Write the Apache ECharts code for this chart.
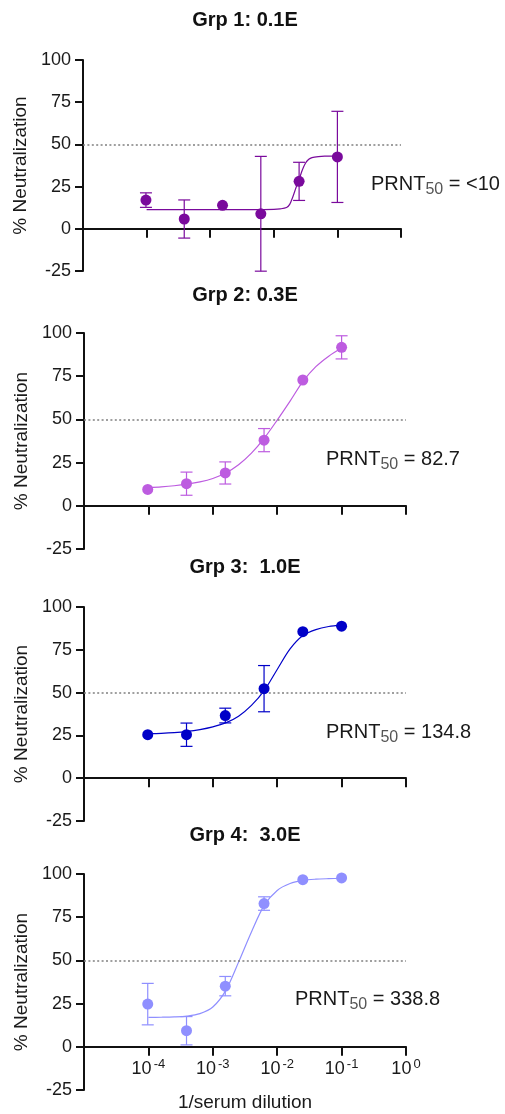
<!DOCTYPE html>
<html>
<head>
<meta charset="utf-8">
<script src="https://cdn.jsdelivr.net/npm/echarts@6/dist/echarts.min.js"></script>
<style>
  html, body { margin: 0; padding: 0; background: #fff; }
  #main { width: 505px; height: 1114px; }
</style>
</head>
<body>
<div id="main"></div>
<script>
  // reciprocal serum dilutions (x = 1/dilution)
  var dilutions = [10240, 2560, 640, 160, 40, 10]
  var titles = ['Grp 1: 0.1E', 'Grp 2: 0.3E', 'Grp 3:  1.0E', 'Grp 4:  3.0E']
  var prnt50 = ['<10', '82.7', '134.8', '338.8']
  var colors = ['#7a0a9c', '#bd5ce0', '#0000c8', '#8f8fff']

  // mean % neutralization and error per group
  var mean1 = [17.0, 5.8, 13.9, 8.9, 28.1, 42.6]
  var err1 = [4.3, 11.3, 0, 34.0, 11.3, 27.0]
  var mean2 = [9.5, 12.8, 19.0, 38.0, 72.8, 91.7]
  var err2 = [0, 6.7, 6.4, 6.7, 0, 6.7]
  var mean3 = [25.4, 25.4, 36.6, 52.3, 85.6, 88.8]
  var err3 = [0, 6.8, 4.3, 13.5, 0, 0]
  var mean4 = [24.7, 9.3, 35.1, 82.9, 96.7, 97.7]
  var err4 = [12.0, 8.2, 5.6, 3.9, 0, 0]

  // fitted curves (x given as log10 of 1/dilution)
  var curve1LogX = [-4.0, -3.6, -3.2, -2.8, -2.4, -2.0, -1.9, -1.8, -1.75, -1.7, -1.65, -1.6, -1.55, -1.5, -1.45, -1.4, -1.3, -1.2, -1.0]
  var curve1Y = [11.4, 11.4, 11.4, 11.4, 11.4, 11.5, 11.8, 12.6, 14.5, 19.0, 24.5, 29.5, 35.0, 39.0, 41.2, 42.2, 42.8, 43.0, 43.0]
  var curveLogX = [-4.0, -3.8, -3.6, -3.4, -3.2, -3.0, -2.8, -2.6, -2.4, -2.2, -2.0, -1.8, -1.6, -1.4, -1.2, -1.0]
  var curve2Y = [10.6, 11.0, 11.6, 12.5, 13.8, 15.8, 19.0, 23.8, 30.5, 39.2, 49.6, 60.6, 72.0, 80.5, 86.6, 91.3]
  var curve3Y = [26.0, 26.2, 26.6, 27.3, 28.4, 30.0, 32.3, 36.2, 42.5, 51.3, 63.5, 75.5, 83.3, 86.8, 88.6, 89.4]
  var curve4Y = [17.0, 17.1, 17.3, 17.8, 19.2, 23.0, 32.5, 49.0, 66.5, 82.0, 90.5, 94.5, 96.3, 97.0, 97.3, 97.5]

  var yTicks = [-25, 0, 25, 50, 75, 100]

  var font = 'Liberation Sans, Arial, sans-serif'
  var panels = [
    { mean: mean1, err: err1, cx: curve1LogX, cy: curve1Y, grid: { left: 83, top: 60, width: 318, height: 211 }, titleY: 19, noteX: 371, noteY: 182 },
    { mean: mean2, err: err2, cx: curveLogX, cy: curve2Y, grid: { left: 84, top: 333, width: 322, height: 216 }, titleY: 294, noteX: 326, noteY: 457 },
    { mean: mean3, err: err3, cx: curveLogX, cy: curve3Y, grid: { left: 84, top: 607, width: 322, height: 214 }, titleY: 566, noteX: 326, noteY: 730 },
    { mean: mean4, err: err4, cx: curveLogX, cy: curve4Y, grid: { left: 84, top: 874, width: 322, height: 216 }, titleY: 834, noteX: 295, noteY: 997 }
  ]

  function renderErr(params, api) {
    var x = api.value(0)
    var m = api.value(1)
    var e = api.value(2)
    if (!e) {
      return null
    }
    var hi = api.coord([x, m + e])
    var lo = api.coord([x, m - e])
    var w = 6
    var st = { stroke: api.visual('color'), lineWidth: 1.2 }
    return {
      type: 'group',
      children: [
        { type: 'line', shape: { x1: hi[0], y1: hi[1], x2: lo[0], y2: lo[1] }, style: st },
        { type: 'line', shape: { x1: hi[0] - w, y1: hi[1], x2: hi[0] + w, y2: hi[1] }, style: st },
        { type: 'line', shape: { x1: lo[0] - w, y1: lo[1], x2: lo[0] + w, y2: lo[1] }, style: st }
      ]
    }
  }

  var grids = []
  var xAxes = []
  var yAxes = []
  var series = []
  var graphics = []

  panels.forEach(function (p, i) {
    var last = i === panels.length - 1
    var g = p.grid
    g.outerBoundsMode = 'none'
    g.containLabel = false
    grids.push(g)
    xAxes.push({
      gridIndex: i,
      type: 'log',
      logBase: 10,
      min: 1e-5,
      max: 1,
      name: last ? '1/serum dilution' : '',
      nameLocation: 'middle',
      nameGap: 3,
      nameMoveOverlap: false,
      nameTextStyle: { fontSize: 19, color: '#1a1a1a', fontFamily: font },
      axisLine: { onZero: true, lineStyle: { color: '#111', width: 2 } },
      axisTick: { show: true, length: 9, lineStyle: { color: '#111', width: 2 } },
      splitLine: { show: false },
      axisLabel: {
        show: last,
        margin: -32,
        fontSize: 18,
        lineHeight: 22,
        color: '#1a1a1a',
        fontFamily: font,
        formatter: function (v) {
          var pw = Math.round(Math.log(v) / Math.LN10)
          return pw === -5 ? '' : '10{sup|' + pw + '}'
        },
        rich: {
          sup: { fontSize: 13, lineHeight: 14, verticalAlign: 'top', padding: [0, 0, 0, 2], color: '#1a1a1a', fontFamily: font }
        }
      }
    })
    yAxes.push({
      gridIndex: i,
      type: 'value',
      min: yTicks[0],
      max: yTicks[yTicks.length - 1],
      interval: 25,
      name: '% Neutralization',
      nameLocation: 'middle',
      nameGap: 52,
      nameTextStyle: { fontSize: 19, color: '#1a1a1a', fontFamily: font },
      axisLine: { show: true, lineStyle: { color: '#111', width: 2 } },
      axisTick: { show: true, length: 8, lineStyle: { color: '#111', width: 2 } },
      splitLine: { show: false },
      axisLabel: { margin: 12, fontSize: 18, color: '#1a1a1a', fontFamily: font }
    })

    var color = colors[i]
    series.push({
      type: 'line',
      xAxisIndex: i,
      yAxisIndex: i,
      smooth: 0.3,
      showSymbol: false,
      symbol: 'none',
      silent: true,
      lineStyle: { color: color, width: 1.2 },
      data: p.cx.map(function (lx, k) { return [Math.pow(10, lx), p.cy[k]] }),
      markLine: {
        silent: true,
        symbol: 'none',
        label: { show: false },
        lineStyle: { color: '#808080', type: [2, 2.4], width: 1.6 },
        data: [{ yAxis: 50 }]
      },
      z: 3
    })
    series.push({
      type: 'custom',
      xAxisIndex: i,
      yAxisIndex: i,
      renderItem: renderErr,
      itemStyle: { color: color },
      encode: { x: 0, y: 1 },
      clip: false,
      silent: true,
      data: dilutions.map(function (d, k) { return [1 / d, p.mean[k], p.err[k]] }),
      z: 4
    })
    series.push({
      type: 'scatter',
      xAxisIndex: i,
      yAxisIndex: i,
      symbol: 'circle',
      symbolSize: 11,
      silent: true,
      itemStyle: { color: color, opacity: 1 },
      data: dilutions.map(function (d, k) { return [1 / d, p.mean[k]] }),
      z: 5
    })

    graphics.push({
      type: 'text',
      x: 245,
      y: p.titleY + 1,
      style: {
        text: titles[i],
        fontSize: 20,
        fontWeight: 'bold',
        fontFamily: font,
        fill: '#111',
        align: 'center',
        verticalAlign: 'middle'
      }
    })
    graphics.push({
      type: 'text',
      x: p.noteX,
      y: p.noteY + 2,
      style: {
        text: '{a|PRNT}{s|50}{a| = ' + prnt50[i] + '}',
        fontFamily: font,
        fill: '#1a1a1a',
        align: 'left',
        verticalAlign: 'middle',
        rich: {
          a: { fontSize: 20, lineHeight: 28, fontFamily: font, fill: '#1a1a1a' },
          s: { fontSize: 16, lineHeight: 8, verticalAlign: 'bottom', fontFamily: font, fill: '#555' }
        }
      }
    })
  })

  var chart = echarts.init(document.getElementById('main'))
  chart.setOption({
    animation: false,
    backgroundColor: '#fff',
    grid: grids,
    xAxis: xAxes,
    yAxis: yAxes,
    series: series,
    graphic: graphics
  })
</script>
</body>
</html>
